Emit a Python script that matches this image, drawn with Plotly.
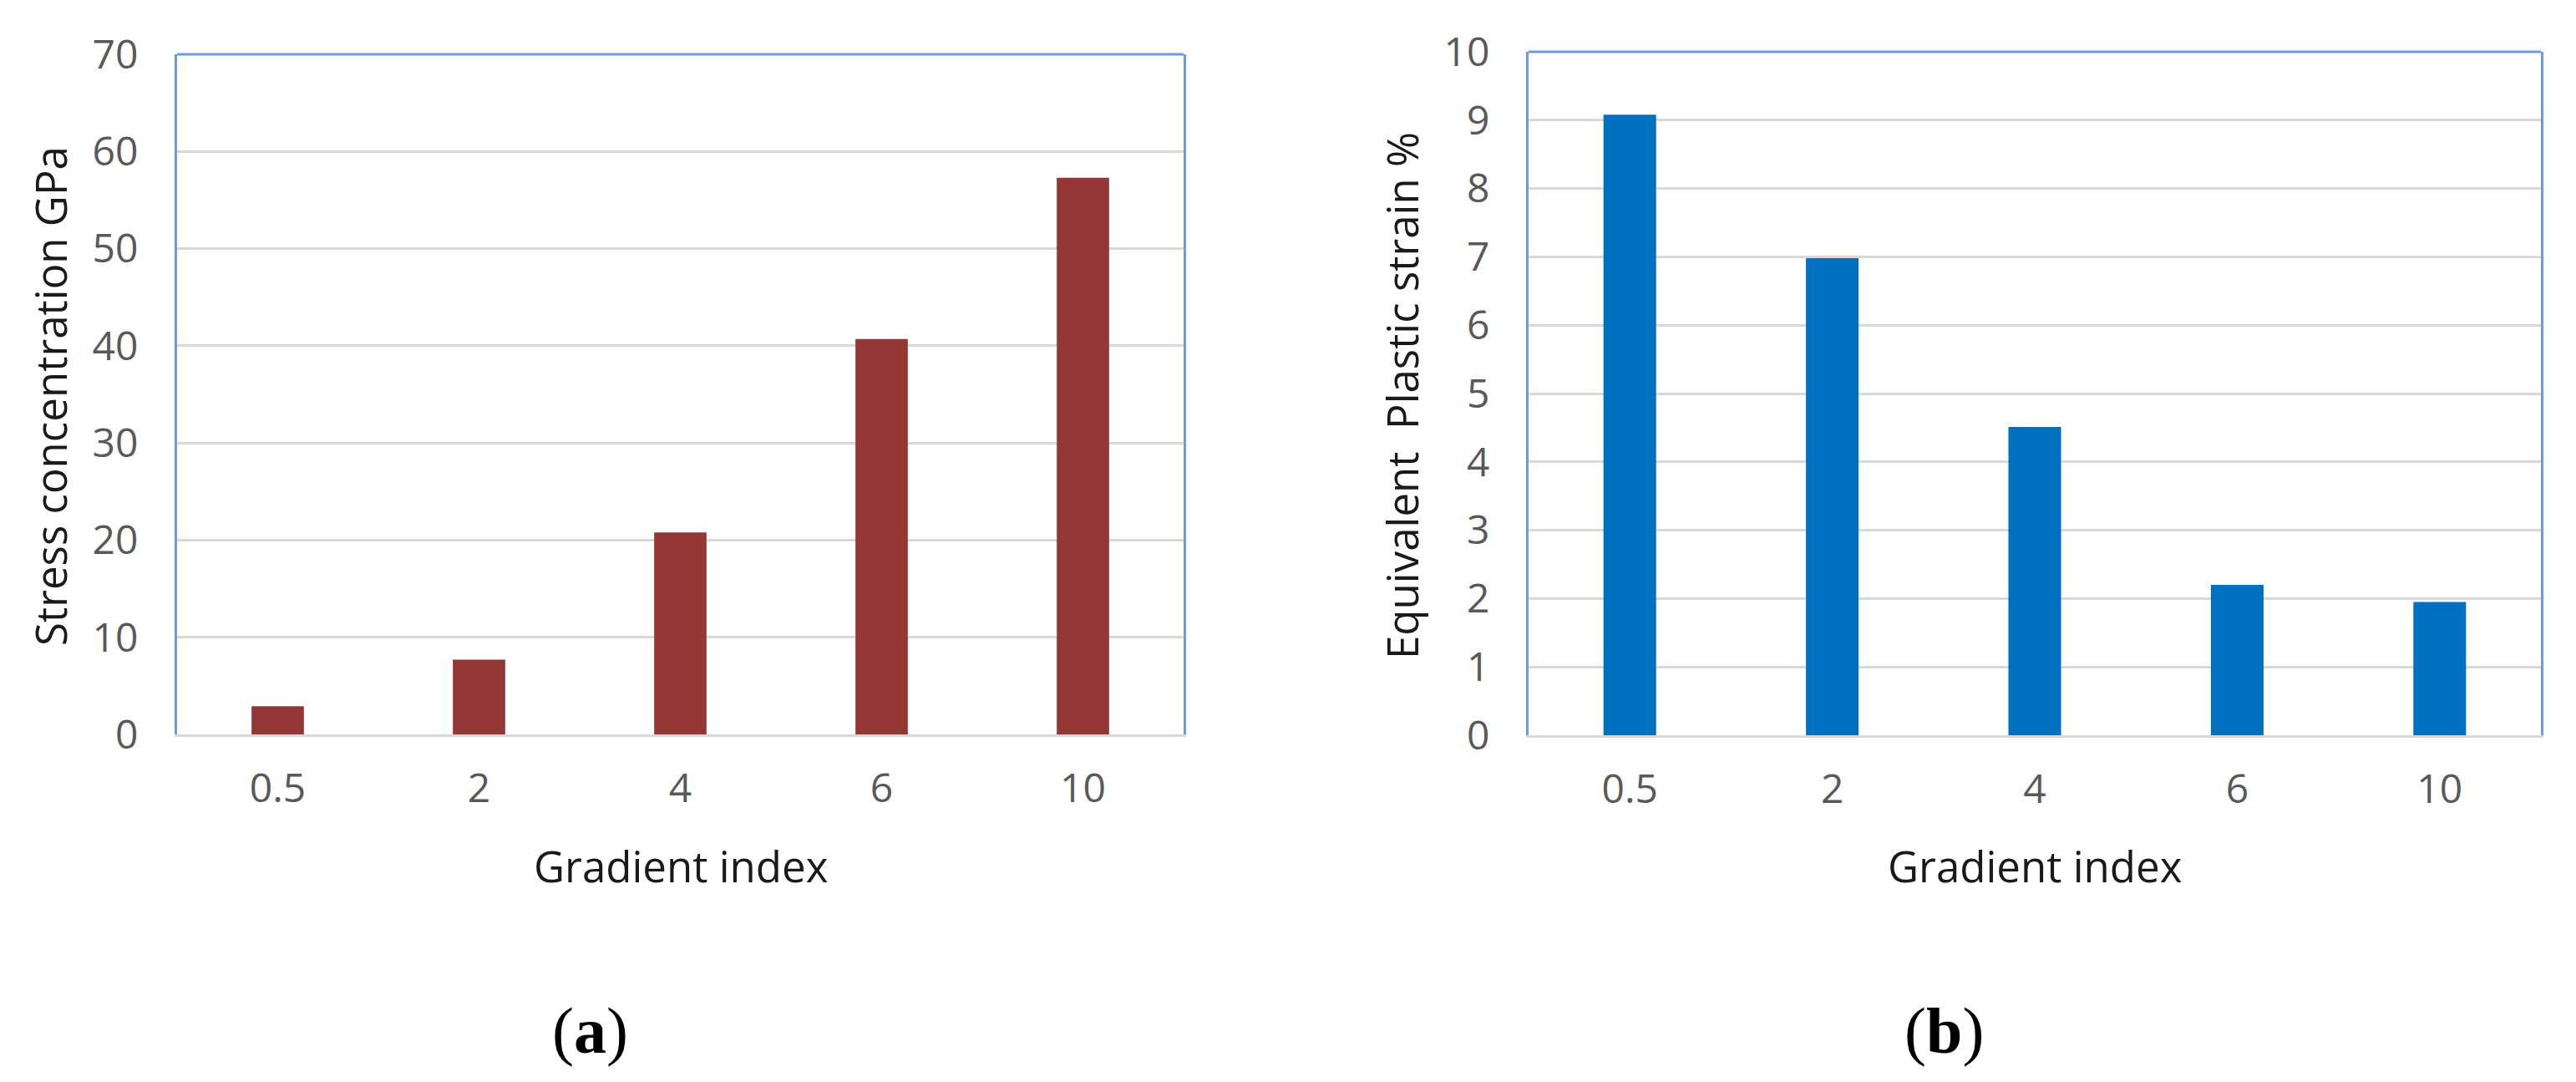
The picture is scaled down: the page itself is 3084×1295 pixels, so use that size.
import plotly.graph_objects as go

W, H = 3084, 1295
OFF = 8  # default page body margin offsets the figure

categories = ["0.5", "2", "4", "6", "10"]
stress_gpa = [2.9, 7.7, 20.8, 40.7, 57.3]
plastic_strain = [9.08, 6.98, 4.51, 2.2, 1.95]

stress_ticks = [0, 10, 20, 30, 40, 50, 60, 70]
strain_ticks = [0, 1, 2, 3, 4, 5, 6, 7, 8, 9, 10]

RED = "#943634"
BLUE = "#0070C0"
FRAME = "#6E9BD9"
GRID = "#D9D9D9"
TICK = "#595959"
TITLE = "#1a1a1a"
FONT = "Open Sans"


def px_x(p):
    return (p - OFF) / W


def px_y(p):
    return 1 - (p - OFF) / H


fig = go.Figure()
fig.add_trace(go.Bar(x=categories, y=stress_gpa, marker=dict(color=RED, line=dict(width=0)),
                     xaxis="x", yaxis="y", showlegend=False))
fig.add_trace(go.Bar(x=categories, y=plastic_strain, marker=dict(color=BLUE, line=dict(width=0)),
                     xaxis="x2", yaxis="y2", showlegend=False))

common_x = dict(type="category", showgrid=False, showline=True, linecolor=GRID, linewidth=3,
                ticks="", tickfont=dict(family=FONT, size=48, color=TICK), ticklabelstandoff=20,
                zeroline=False, fixedrange=True, automargin=False)
common_y = dict(showgrid=True, gridcolor=GRID, gridwidth=3, showline=True, linecolor=FRAME,
                linewidth=3, mirror=True, ticks="", zeroline=False, automargin=False,
                tickfont=dict(family=FONT, size=48, color=TICK), ticklabelstandoff=34)

fig.update_layout(
    width=W, height=H,
    margin=dict(l=0, r=0, t=0, b=0),
    paper_bgcolor="white", plot_bgcolor="white",
    bargap=0.74,
    xaxis=dict(domain=[px_x(212), px_x(1417)], anchor="y", **common_x),
    yaxis=dict(domain=[px_y(879), px_y(65)], anchor="x", range=[0, 70],
               tickvals=stress_ticks, **common_y),
    xaxis2=dict(domain=[px_x(1830), px_x(3042)], anchor="y2", **common_x),
    yaxis2=dict(domain=[px_y(880), px_y(62)], anchor="x2", range=[0, 10],
                tickvals=strain_ticks, **common_y),
)

# top frame lines
for xr, yr in (("x domain", "y domain"), ("x2 domain", "y2 domain")):
    fig.add_shape(type="line", xref=xr, yref=yr, x0=0, x1=1, y0=1, y1=1,
                  line=dict(color=FRAME, width=3), layer="above")

title_font = dict(family=FONT, size=51, color=TITLE)
fig.add_annotation(text="Stress concentration GPa", xref="paper", yref="paper",
                   x=px_x(60), y=px_y(474), textangle=-90, showarrow=False,
                   xanchor="center", yanchor="middle", font=title_font)
fig.add_annotation(text="Equivalent  Plastic strain %", xref="paper", yref="paper",
                   x=px_x(1678), y=px_y(474), textangle=-90, showarrow=False,
                   xanchor="center", yanchor="middle", font=title_font)
fig.add_annotation(text="Gradient index", xref="paper", yref="paper",
                   x=px_x(815), y=px_y(1036), showarrow=False,
                   xanchor="center", yanchor="middle", font=title_font)
fig.add_annotation(text="Gradient index", xref="paper", yref="paper",
                   x=px_x(2436), y=px_y(1036), showarrow=False,
                   xanchor="center", yanchor="middle", font=title_font)

label_font = dict(family="Liberation Serif", size=78, color="black")
fig.add_annotation(text="(<b>a</b>)", xref="paper", yref="paper", x=px_x(706), y=px_y(1233),
                   showarrow=False, xanchor="center", yanchor="middle", font=label_font)
fig.add_annotation(text="(<b>b</b>)", xref="paper", yref="paper", x=px_x(2327), y=px_y(1233),
                   showarrow=False, xanchor="center", yanchor="middle", font=label_font)

fig.write_html("out.html")
